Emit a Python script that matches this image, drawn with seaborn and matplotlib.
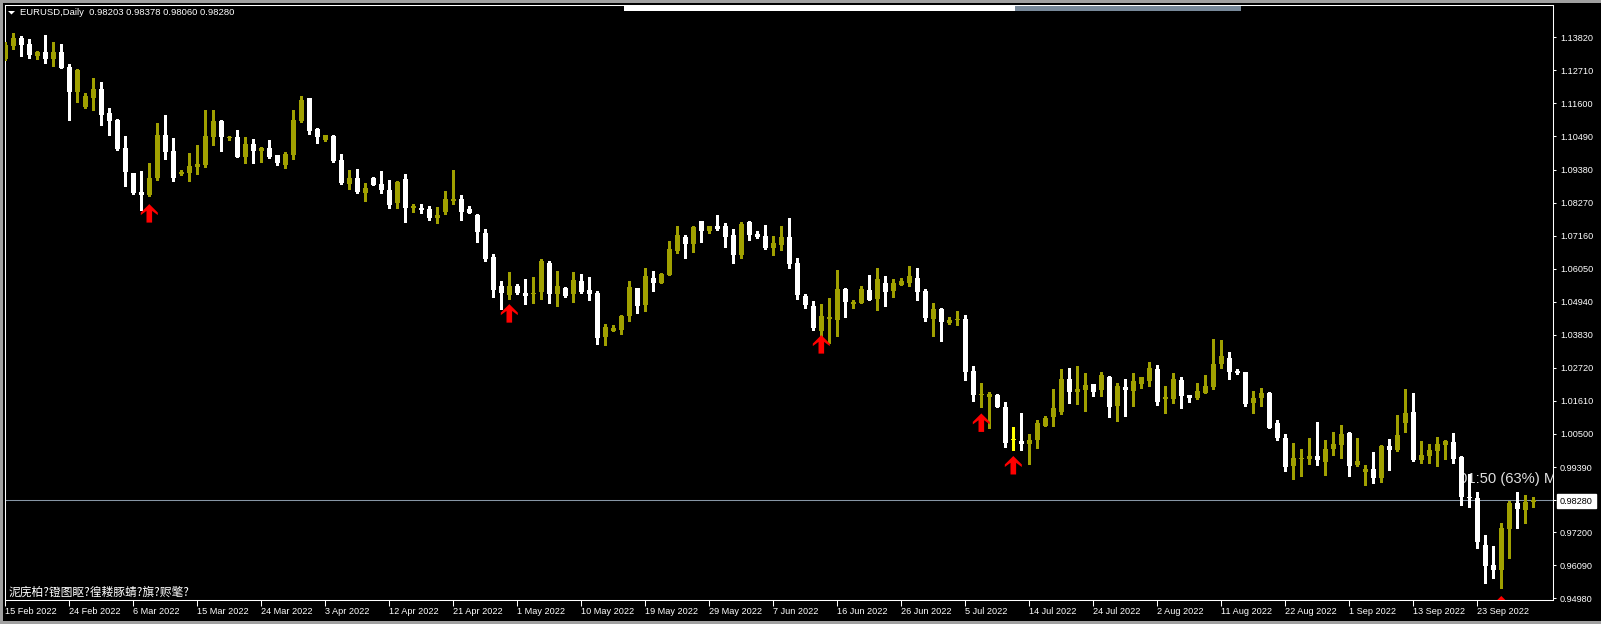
import numpy as np
import pandas as pd
import matplotlib
matplotlib.use("Agg")
import matplotlib.pyplot as plt
from matplotlib.path import Path
from matplotlib.patches import Rectangle, Polygon
import seaborn as sns

# daily EURUSD candles
opens = [1.1309, 1.1353, 1.1379, 1.1360, 1.1320, 1.1332, 1.1309, 1.1332, 1.1282, 1.1198,
         1.1148, 1.1179, 1.1208, 1.1128, 1.1104, 1.1010, 1.0926, 1.0863, 1.0853, 1.0910,
         1.1054, 1.1000, 1.0923, 1.0926, 1.0947, 1.0953, 1.1048, 1.1101, 1.1045, 1.1047,
         1.0980, 1.1024, 1.1000, 1.1010, 1.0987, 1.0953, 1.0987, 1.1101, 1.1177, 1.1074,
         1.1037, 1.1050, 1.0970, 1.0890, 1.0910, 1.0859, 1.0910, 1.0890, 1.0869, 1.0826,
         1.0906, 1.0810, 1.0810, 1.0806, 1.0776, 1.0797, 1.0833, 1.0839, 1.0806, 1.0785,
         1.0725, 1.0644, 1.0547, 1.0518, 1.0547, 1.0523, 1.0521, 1.0528, 1.0624, 1.0521,
         1.0540, 1.0521, 1.0564, 1.0534, 1.0523, 1.0377, 1.0397, 1.0400, 1.0447, 1.0540,
         1.0484, 1.0574, 1.0558, 1.0585, 1.0665, 1.0710, 1.0689, 1.0765, 1.0733, 1.0748,
         1.0748, 1.0718, 1.0652, 1.0762, 1.0722, 1.0715, 1.0676, 1.0686, 1.0711, 1.0624,
         1.0513, 1.0481, 1.0397, 1.0436, 1.0434, 1.0537, 1.0488, 1.0491, 1.0534, 1.0504,
         1.0557, 1.0531, 1.0551, 1.0558, 1.0574, 1.0530, 1.0437, 1.0471, 1.0423, 1.0434,
         1.0436, 1.0262, 1.0182, 1.0175, 1.0181, 1.0141, 1.0030, 1.0027, 1.0017, 1.0031,
         1.0078, 1.0108, 1.0125, 1.0235, 1.0192, 1.0199, 1.0218, 1.0199, 1.0241, 1.0145,
         1.0208, 1.0195, 1.0219, 1.0229, 1.0268, 1.0168, 1.0168, 1.0231, 1.0181, 1.0171,
         1.0189, 1.0209, 1.0286, 1.0305, 1.0262, 1.0258, 1.0155, 1.0172, 1.0188, 1.0087,
         1.0037, 0.9943, 0.9967, 0.9967, 0.9976, 0.9957, 1.0001, 1.0014, 1.0053, 0.9947,
         0.9923, 0.9932, 0.9903, 1.0010, 0.9997, 1.0088, 1.0124, 0.9964, 0.9977, 0.9994,
         1.0014, 1.0023, 0.9974, 0.9838, 0.9835, 0.9677, 0.9610, 0.9594, 0.9732, 0.9818,
         0.9796, 0.98203]
highs = [1.1365, 1.1396, 1.1387, 1.1375, 1.1336, 1.1390, 1.1365, 1.1360, 1.1292, 1.1274,
         1.1194, 1.1245, 1.1232, 1.1145, 1.1108, 1.1050, 1.0928, 1.0933, 1.0960, 1.1094,
         1.1121, 1.1044, 1.0936, 1.0994, 1.1020, 1.1138, 1.1138, 1.1104, 1.1049, 1.1071,
         1.1047, 1.1041, 1.1014, 1.1037, 1.0988, 1.0998, 1.1138, 1.1185, 1.1179, 1.1077,
         1.1055, 1.1054, 1.0990, 1.0936, 1.0940, 1.0893, 1.0913, 1.0933, 1.0903, 1.0900,
         1.0923, 1.0822, 1.0822, 1.0816, 1.0812, 1.0866, 1.0936, 1.0853, 1.0816, 1.0789,
         1.0738, 1.0655, 1.0564, 1.0594, 1.0554, 1.0570, 1.0577, 1.0637, 1.0631, 1.0597,
         1.0545, 1.0594, 1.0587, 1.0577, 1.0530, 1.0420, 1.0416, 1.0450, 1.0564, 1.0541,
         1.0607, 1.0597, 1.0590, 1.0698, 1.0748, 1.0718, 1.0748, 1.0766, 1.0749, 1.0785,
         1.0758, 1.0738, 1.0762, 1.0765, 1.0732, 1.0752, 1.0715, 1.0748, 1.0775, 1.0641,
         1.0520, 1.0497, 1.0487, 1.0507, 1.0600, 1.0540, 1.0501, 1.0547, 1.0584, 1.0607,
         1.0580, 1.0570, 1.0574, 1.0614, 1.0607, 1.0537, 1.0491, 1.0474, 1.0444, 1.0463,
         1.0450, 1.0278, 1.0221, 1.0192, 1.0184, 1.0157, 1.0074, 1.0120, 1.0051, 1.0097,
         1.0110, 1.0201, 1.0268, 1.0272, 1.0278, 1.0255, 1.0218, 1.0258, 1.0245, 1.0221,
         1.0235, 1.0255, 1.0241, 1.0292, 1.0282, 1.0211, 1.0255, 1.0241, 1.0181, 1.0221,
         1.0248, 1.0369, 1.0366, 1.0325, 1.0268, 1.0258, 1.0194, 1.0204, 1.0191, 1.0097,
         1.0050, 1.0020, 1.0000, 1.0037, 1.0090, 1.0030, 1.0057, 1.0080, 1.0057, 1.0037,
         0.9946, 0.9990, 1.0013, 1.0033, 1.0114, 1.0201, 1.0188, 1.0028, 1.0017, 1.0041,
         1.0031, 1.0054, 0.9977, 0.9917, 0.9855, 0.9711, 0.9674, 0.9752, 0.9826, 0.9855,
         0.9846, 0.98378]
lows = [1.1306, 1.1343, 1.1320, 1.1314, 1.1309, 1.1297, 1.1287, 1.1278, 1.1104, 1.1165,
        1.1146, 1.1138, 1.1088, 1.1054, 1.1005, 1.0883, 1.0857, 1.0802, 1.0849, 1.0903,
        1.0973, 1.0900, 1.0920, 1.0900, 1.0923, 1.0948, 1.1020, 1.1000, 1.1037, 1.0979,
        1.0960, 1.0960, 1.0963, 1.0978, 1.0953, 1.0943, 1.0973, 1.1098, 1.1057, 1.1027,
        1.1035, 1.0963, 1.0890, 1.0873, 1.0859, 1.0832, 1.0885, 1.0859, 1.0809, 1.0809,
        1.0762, 1.0797, 1.0793, 1.0770, 1.0760, 1.0790, 1.0823, 1.0770, 1.0792, 1.0696,
        1.0632, 1.0511, 1.0471, 1.0504, 1.0521, 1.0488, 1.0491, 1.0504, 1.0491, 1.0481,
        1.0511, 1.0494, 1.0524, 1.0501, 1.0353, 1.0350, 1.0396, 1.0387, 1.0430, 1.0457,
        1.0464, 1.0531, 1.0557, 1.0584, 1.0659, 1.0642, 1.0662, 1.0696, 1.0726, 1.0736,
        1.0679, 1.0625, 1.0642, 1.0702, 1.0709, 1.0672, 1.0652, 1.0669, 1.0608, 1.0504,
        1.0474, 1.0398, 1.0377, 1.0356, 1.0380, 1.0444, 1.0474, 1.0491, 1.0501, 1.0467,
        1.0481, 1.0511, 1.0550, 1.0548, 1.0501, 1.0430, 1.0380, 1.0363, 1.0420, 1.0417,
        1.0232, 1.0162, 1.0142, 1.0071, 1.0141, 1.0007, 0.9997, 0.9997, 0.9950, 1.0004,
        1.0078, 1.0078, 1.0118, 1.0155, 1.0152, 1.0128, 1.0179, 1.0179, 1.0108, 1.0095,
        1.0111, 1.0145, 1.0205, 1.0212, 1.0148, 1.0121, 1.0155, 1.0138, 1.0158, 1.0167,
        1.0189, 1.0202, 1.0273, 1.0236, 1.0252, 1.0145, 1.0121, 1.0145, 1.0069, 1.0031,
        0.9927, 0.9900, 0.9910, 0.9950, 0.9947, 0.9913, 0.9980, 0.9970, 0.9910, 0.9943,
        0.9879, 0.9885, 0.9888, 0.9930, 0.9994, 1.0058, 0.9960, 0.9954, 0.9954, 0.9943,
        0.9967, 0.9954, 0.9812, 0.9806, 0.9668, 0.9551, 0.9567, 0.9534, 0.9634, 0.9735,
        0.9752, 0.98060]
closes = [1.1356, 1.1379, 1.1356, 1.1324, 1.1332, 1.1309, 1.1332, 1.1280, 1.1198, 1.1272,
          1.1184, 1.1208, 1.1121, 1.1101, 1.1007, 1.0930, 1.0859, 1.0853, 1.0910, 1.1054,
          1.0997, 1.0910, 1.0930, 1.0950, 1.0957, 1.1050, 1.1101, 1.1048, 1.1048, 1.0980,
          1.1024, 1.1000, 1.1010, 1.0980, 1.0960, 1.0990, 1.1104, 1.1172, 1.1067, 1.1047,
          1.1054, 1.0967, 1.0893, 1.0910, 1.0863, 1.0876, 1.0886, 1.0869, 1.0819, 1.0896,
          1.0809, 1.0817, 1.0802, 1.0776, 1.0785, 1.0839, 1.0839, 1.0797, 1.0793, 1.0729,
          1.0638, 1.0535, 1.0524, 1.0547, 1.0524, 1.0514, 1.0524, 1.0631, 1.0521, 1.0547,
          1.0514, 1.0567, 1.0528, 1.0521, 1.0373, 1.0409, 1.0406, 1.0446, 1.0544, 1.0481,
          1.0580, 1.0558, 1.0587, 1.0671, 1.0718, 1.0689, 1.0745, 1.0733, 1.0748, 1.0739,
          1.0713, 1.0652, 1.0755, 1.0719, 1.0713, 1.0676, 1.0691, 1.0711, 1.0622, 1.0518,
          1.0484, 1.0407, 1.0446, 1.0443, 1.0537, 1.0494, 1.0494, 1.0537, 1.0501, 1.0570,
          1.0528, 1.0557, 1.0564, 1.0580, 1.0528, 1.0440, 1.0471, 1.0427, 1.0432, 1.0437,
          1.0259, 1.0182, 1.0185, 1.0185, 1.0142, 1.0021, 1.0030, 1.0017, 1.0030, 1.0087,
          1.0104, 1.0137, 1.0235, 1.0192, 1.0201, 1.0214, 1.0192, 1.0248, 1.0142, 1.0211,
          1.0199, 1.0228, 1.0241, 1.0272, 1.0158, 1.0174, 1.0235, 1.0179, 1.0172, 1.0194,
          1.0212, 1.0285, 1.0312, 1.0259, 1.0256, 1.0152, 1.0171, 1.0188, 1.0071, 1.0038,
          0.9940, 0.9969, 0.9970, 0.9976, 0.9964, 1.0000, 1.0016, 1.0050, 0.9943, 0.9959,
          0.9932, 0.9903, 1.0010, 0.9997, 1.0047, 1.0120, 0.9963, 0.9980, 0.9997, 1.0016,
          1.0028, 0.9967, 0.9839, 0.9835, 0.9688, 0.9608, 0.9594, 0.9735, 0.9819, 0.9799,
          0.9823, 0.98280]

date_labels = ["15 Feb 2022", "24 Feb 2022", "6 Mar 2022", "15 Mar 2022", "24 Mar 2022",
               "3 Apr 2022", "12 Apr 2022", "21 Apr 2022", "1 May 2022", "10 May 2022",
               "19 May 2022", "29 May 2022", "7 Jun 2022", "16 Jun 2022", "26 Jun 2022",
               "5 Jul 2022", "14 Jul 2022", "24 Jul 2022", "2 Aug 2022", "11 Aug 2022",
               "22 Aug 2022", "1 Sep 2022", "13 Sep 2022", "23 Sep 2022"]
date_step = 8

price_levels = [1.13820, 1.12710, 1.11600, 1.10490, 1.09380, 1.08270, 1.07160, 1.06050,
                1.04940, 1.03830, 1.02720, 1.01610, 1.00500, 0.99390, 0.98280, 0.97200,
                0.96090, 0.94980]
bid_price = 0.98280

# red up-arrows (tip price) from the indicator
signal_bars = [18, 63, 102, 122, 126, 187]
signal_prices = [1.0822, 1.0486, 1.0382, 1.0119, 0.9976, 0.9506]

header = "EURUSD,Daily  0.98203 0.98378 0.98060 0.98280"
footer = "泥庑柏?镫图眍?徨耧豚蜻?旗?赆氅?"
timer = "01:50 (63%) M"

sns.set_theme(style="dark")
plt.rcParams['font.family'] = ['Liberation Sans', 'DejaVu Sans']

W, H = 1601, 624
fig = plt.figure(figsize=(W / 100, H / 100), dpi=100, facecolor='black')
ax = fig.add_axes([4.7 / W, 24 / H, 1548.3 / W, 595.3 / H])
ax.set_facecolor('black')

df = pd.DataFrame({'o': opens, 'h': highs, 'l': lows, 'c': closes})
df['i'] = np.arange(len(df))
up, down, flat = '#a0a000', '#ffffff', '#ffff00'
df['col'] = np.where(df.c > df.o, up, np.where(df.c < df.o, down, flat))

# wicks and bodies
ax.vlines(df.i, df.l, df.h, colors=df.col, linewidth=0.75, antialiased=False, zorder=3)
body_lo = np.minimum(df.o, df.c)
body_h = np.maximum((df.c - df.o).abs(), 0.00034)
ax.bar(df.i, body_h, bottom=body_lo, width=0.625, color=df.col, linewidth=0,
       antialiased=False, zorder=4)

ax.axhline(bid_price, color='#8796a5', linewidth=0.75, zorder=2)

arrow = Path([(0, 0), (8.5, -8.5), (8.5, -11), (2.8, -6.8), (2.8, -18.5), (-2.8, -18.5),
              (-2.8, -6.8), (-8.5, -11), (-8.5, -8.5), (0, 0)], closed=True)
sns.scatterplot(x=signal_bars, y=signal_prices, marker=arrow, s=710, color='#ff0000',
                edgecolor='none', linewidth=0, ax=ax, zorder=5, legend=False)

ax.text(0.9392, 0.2035, timer, transform=ax.transAxes, color='#e0e0e0', fontsize=10.6,
        ha='left', va='center', zorder=1, clip_on=True)

ax.set_xlim(-0.075, len(df) + 1.46)
ax.set_ylim(0.94924, 1.14916)
ax.set_xticks(np.arange(len(date_labels)) * date_step)
ax.set_xticklabels(date_labels, ha='left')
ax.yaxis.tick_right()
ax.set_yticks(price_levels)
ax.set_yticklabels([f"{v:.5f}" for v in price_levels])
ax.tick_params(colors='white', labelcolor='white', labelsize=6.6, width=0.75, direction='out')
ax.tick_params(axis='x', length=4, pad=1.0, bottom=True)
ax.tick_params(axis='y', length=2.5, pad=2.5, right=True)
ax.grid(False)
for s in ax.spines.values():
    s.set_visible(True)
    s.set_color('white')
    s.set_linewidth(0.75)

for lab, v in zip(ax.get_yticklabels(), price_levels):
    if abs(v - bid_price) < 1e-9:
        lab.set_color('black')
        lab.set_bbox(dict(boxstyle='square,pad=0.3', fc='white', ec='white'))

# header, footer and window bits
fig.text(20 / W, 1 - 12.5 / H, header, color='white', fontsize=6.8, ha='left', va='center')
fig.patches.append(Polygon([(8 / W, 1 - 11 / H), (15 / W, 1 - 11 / H), (11.5 / W, 1 - 14.5 / H)],
                           closed=True, transform=fig.transFigure, fc='white', ec='none'))
fig.text(9 / W, 1 - 592 / H, footer, color='white', fontsize=8.5, ha='left', va='center',
         family=['Noto Sans CJK SC', 'DejaVu Sans'])

fig.patches.append(Rectangle((624 / W, 1 - 10.5 / H), (1015 - 624) / W, 5 / H,
                             transform=fig.transFigure, fc='white', ec='none'))
fig.patches.append(Rectangle((1015 / W, 1 - 10.5 / H), (1241 - 1015) / W, 5 / H,
                             transform=fig.transFigure, fc='#778899', ec='none'))
fig.patches.append(Rectangle((0, 1 - 3 / H), 1, 3 / H, transform=fig.transFigure,
                             fc='#a0a0a0', ec='none'))
fig.patches.append(Rectangle((0, 0), 3 / W, 1, transform=fig.transFigure,
                             fc='#a0a0a0', ec='none'))
fig.patches.append(Rectangle((0, 0), 1, 3 / H, transform=fig.transFigure,
                             fc='#a0a0a0', ec='none'))

fig.savefig('out.png', dpi=100, facecolor='black')
